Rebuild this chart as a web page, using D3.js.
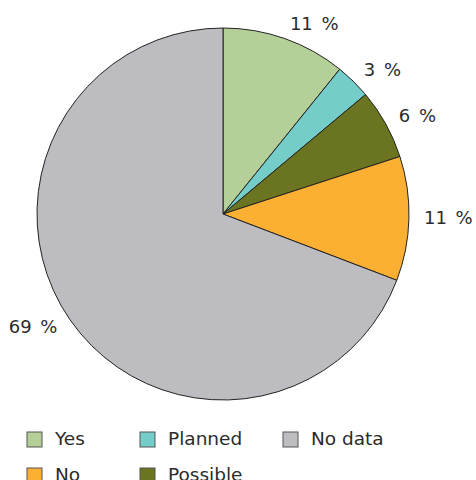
<!DOCTYPE html>
<html>
<head>
<meta charset="utf-8">
<script src="https://cdn.jsdelivr.net/npm/d3@7"></script>
<style>
  body { margin: 0; background: #fff; }
  text { font-family: "DejaVu Sans", Verdana, sans-serif; fill: #2b2b2b; }
</style>
</head>
<body>
<div id="chart"></div>
<script>
// ---------- data ----------
var categories = ["Yes", "Planned", "Possible", "No", "No data"];
var shares = [10.8, 3.1, 6.1, 10.8, 69.2];
var labels = ["11 %", "3 %", "6 %", "11 %", "69 %"];
var colors = ["#b5cf99", "#74cdc9", "#6b7521", "#fbaf33", "#bdbdc1"];
var legendOrder = [["Yes", "Planned", "No data"], ["No", "Possible"]];

// ---------- canvas ----------
var width = 476, height = 480;
var cx = 223, cy = 214, radius = 186;

var svg = d3.select("#chart").append("svg")
  .attr("width", width)
  .attr("height", height);

var color = d3.scaleOrdinal().domain(categories).range(colors);

var data = categories.map(function(c, i) {
  return {name: c, value: shares[i], label: labels[i]};
});

var pie = d3.pie().sort(null).value(d => d.value);
var arc = d3.arc().innerRadius(0).outerRadius(radius);
var labelArc = d3.arc().innerRadius(201).outerRadius(201);

var g = svg.append("g").attr("transform", `translate(${cx}, ${cy})`);

var arcs = pie(data);

g.selectAll("path")
  .data(arcs)
  .enter()
  .append("path")
    .attr("d", arc)
    .attr("fill", d => color(d.data.name))
    .attr("stroke", "#222")
    .attr("stroke-width", 1);

// labels: start-anchored on the right half, end-anchored on the left
g.selectAll("text.pct")
  .data(arcs)
  .enter()
  .append("text")
    .attr("class", "pct")
    .attr("transform", d => `translate(${labelArc.centroid(d)})`)
    .attr("text-anchor", d => (d.startAngle + d.endAngle) / 2 < Math.PI ? "start" : "end")
    .attr("dy", "0.3em")
    .style("font-size", "18px")
    .style("word-spacing", "3px")
    .text(d => d.data.label);

// ---------- legend ----------
var colX = [27, 140, 283];
var rowY = [432, 468];
legendOrder.forEach(function(row, r) {
  row.forEach(function(name, c) {
    var item = svg.append("g").attr("transform", `translate(${colX[c]}, ${rowY[r]})`);
    item.append("rect")
      .attr("width", 15).attr("height", 15)
      .attr("fill", color(name))
      .attr("stroke", "#555")
      .attr("stroke-width", 1);
    item.append("text")
      .attr("x", 28).attr("y", 12.5)
      .style("font-size", "18.5px")
      .text(name);
  });
});
</script>
</body>
</html>
